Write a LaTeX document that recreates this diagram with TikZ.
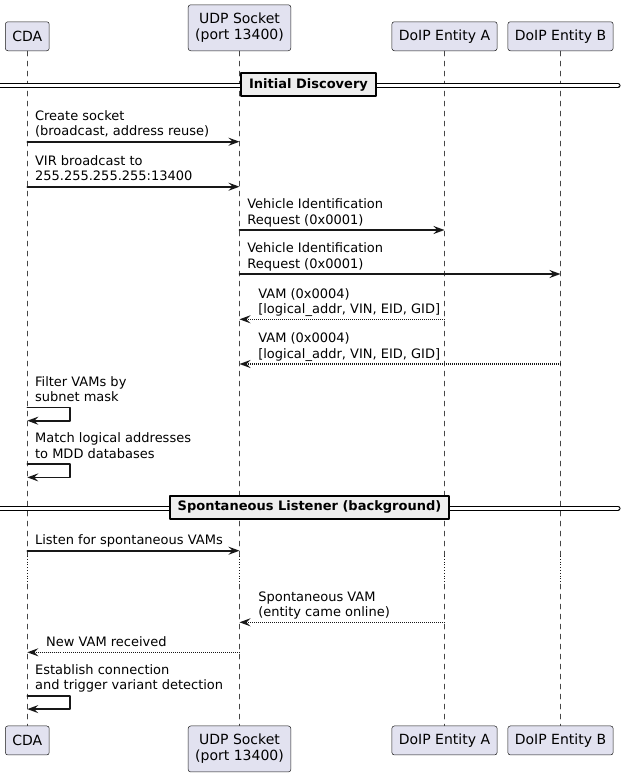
\documentclass[tikz,border=0pt]{standalone}
\usepackage{fontspec}
\setmainfont{DejaVu Sans}
\usetikzlibrary{arrows.meta}
\definecolor{lineC}{HTML}{181818}
\definecolor{partF}{HTML}{E2E2F0}
\definecolor{sepF}{HTML}{EEEEEE}
\tikzset{
	partbox/.style={draw=lineC,fill=partF,line width=0.5pt,rounded corners=2.5pt,inner xsep=7pt,inner ysep=0pt,minimum height=29pt,align=center,font=\fontsize{14}{16.3}\selectfont},
	life/.style={draw=lineC!80,line width=0.5pt,dash pattern=on 5pt off 5pt},
	delay/.style={draw=lineC,line width=0.5pt,dash pattern=on 0.8pt off 2pt,line cap=butt},
	call/.style={draw=lineC,line width=1.6pt,-{Stealth[length=11pt,width=8pt,inset=4pt]}},
	reply/.style={call,dash pattern=on 1pt off 1pt,line cap=butt},
	lbl/.style={anchor=south west,inner sep=0pt,align=left,font=\fontsize{13}{15.2}\selectfont},
	sepbox/.style={draw=black,fill=sepF,line width=2pt,inner xsep=8pt,inner ysep=0pt,minimum height=23pt,font=\fontsize{13}{15.2}\selectfont\bfseries},
	sepline/.style={draw=black,line width=1pt,double,double distance=3pt}
}
\begin{document}
\begin{tikzpicture}[x=1pt,y=-1pt,line join=round,line cap=round]
	\useasboundingbox (0,0) rectangle (624,777);
	%Participants
	\node[partbox,anchor=south] (cda) at (27.3,51) {CDA};
	\node[partbox,anchor=south,minimum height=46pt] (udp) at (239.5,51) {UDP Socket\\(port 13400)};
	\node[partbox,anchor=south] (entA) at (444.5,51) {DoIP Entity A};
	\node[partbox,anchor=south] (entB) at (560.5,51) {DoIP Entity B};
	\node[partbox,anchor=north] (cdaB) at (27.3,725.7) {CDA};
	\node[partbox,anchor=north,minimum height=46pt] (udpB) at (239.5,725.7) {UDP Socket\\(port 13400)};
	\node[partbox,anchor=north] (entAB) at (444.5,725.7) {DoIP Entity A};
	\node[partbox,anchor=north] (entBB) at (560.5,725.7) {DoIP Entity B};
	%Lifelines
	\path (0,556) coordinate (d1) (0,584) coordinate (d2);
	\draw[life] (cda.south) -- (cda |- d1);
	\draw[delay] (cda |- d1) -- (cda |- d2);
	\draw[life] (cda |- d2) -- (cdaB.north);
	\draw[life] (udp.south) -- (udp |- d1);
	\draw[delay] (udp |- d1) -- (udp |- d2);
	\draw[life] (udp |- d2) -- (udpB.north);
	\draw[life] (entA.south) -- (entA |- d1);
	\draw[delay] (entA |- d1) -- (entA |- d2);
	\draw[life] (entA |- d2) -- (entAB.north);
	\draw[life] (entB.south) -- (entB |- d1);
	\draw[delay] (entB |- d1) -- (entB |- d2);
	\draw[life] (entB |- d2) -- (entBB.north);
	%Initial Discovery
	\path (0,85.7) coordinate (s1l) (618,85.7) coordinate (s1r);
	\draw[sepline] (s1l) -- (s1r);
	\node[sepbox] (sep1) at (308.5,84.7) {Initial Discovery};
	%Message rows
	\path (0,141.7) coordinate (y1)
	(0,186.7) coordinate (y2)
	(0,230) coordinate (y3)
	(0,274) coordinate (y4)
	(0,319.3) coordinate (y5)
	(0,364) coordinate (y6)
	(0,407.3) coordinate (y7)
	(0,464) coordinate (y8)
	(0,550.7) coordinate (y9)
	(0,622.3) coordinate (y10)
	(0,652.3) coordinate (y11)
	(0,695.7) coordinate (y12);
	\draw[call] (cda |- y1) -- node[lbl,at start,xshift=7pt,yshift=0.5pt] (t1) {Create socket\\(broadcast, address reuse)\strut} (udp |- y1);
	\draw[call] (cda |- y2) -- node[lbl,at start,xshift=7pt,yshift=0.5pt] (t2) {VIR broadcast to\\255.255.255.255:13400\strut} (udp |- y2);
	\draw[call] (udp |- y3) -- node[lbl,at start,xshift=7pt,yshift=0.5pt] (t3) {Vehicle Identification\\Request (0x0001)\strut} (entA |- y3);
	\draw[call] (udp |- y4) -- node[lbl,at start,xshift=7pt,yshift=0.5pt] (t4) {Vehicle Identification\\Request (0x0001)\strut} (entB |- y4);
	\draw[reply] (entA |- y5) -- node[lbl,at end,xshift=18pt,yshift=0.5pt] (t5) {VAM (0x0004)\\{[}logical\_addr, VIN, EID, GID]\strut} (udp |- y5);
	\draw[reply] (entB |- y6) -- node[lbl,at end,xshift=18pt,yshift=0.5pt] (t6) {VAM (0x0004)\\{[}logical\_addr, VIN, EID, GID]\strut} (udp |- y6);
	%Self messages
	\draw[call] (cda |- y7) -- node[lbl,at start,xshift=7pt,yshift=0.5pt] (t7) {Filter VAMs by\\subnet mask\strut} ++(42.7,0) -- ++(0,13.4) -- ++(-42.7,0);
	\draw[call] (cda |- y8) -- node[lbl,at start,xshift=7pt,yshift=0.5pt] (t8) {Match logical addresses\\to MDD databases\strut} ++(42.7,0) -- ++(0,13.4) -- ++(-42.7,0);
	%Spontaneous Listener
	\path (0,508.2) coordinate (s2l) (618,508.2) coordinate (s2r);
	\draw[sepline] (s2l) -- (s2r);
	\node[sepbox] (sep2) at (309.5,507.2) {Spontaneous Listener (background)};
	\draw[call] (cda |- y9) -- node[lbl,at start,xshift=7pt,yshift=0.5pt] (t9) {Listen for spontaneous VAMs\strut} (udp |- y9);
	\draw[reply] (entA |- y10) -- node[lbl,at end,xshift=18pt,yshift=0.5pt] (t10) {Spontaneous VAM\\(entity came online)\strut} (udp |- y10);
	\draw[reply] (udp |- y11) -- node[lbl,at end,xshift=18pt,yshift=0.5pt] (t11) {New VAM received\strut} (cda |- y11);
	\draw[call] (cda |- y12) -- node[lbl,at start,xshift=7pt,yshift=0.5pt] (t12) {Establish connection\\and trigger variant detection\strut} ++(42.7,0) -- ++(0,13.4) -- ++(-42.7,0);
\end{tikzpicture}
\end{document}
